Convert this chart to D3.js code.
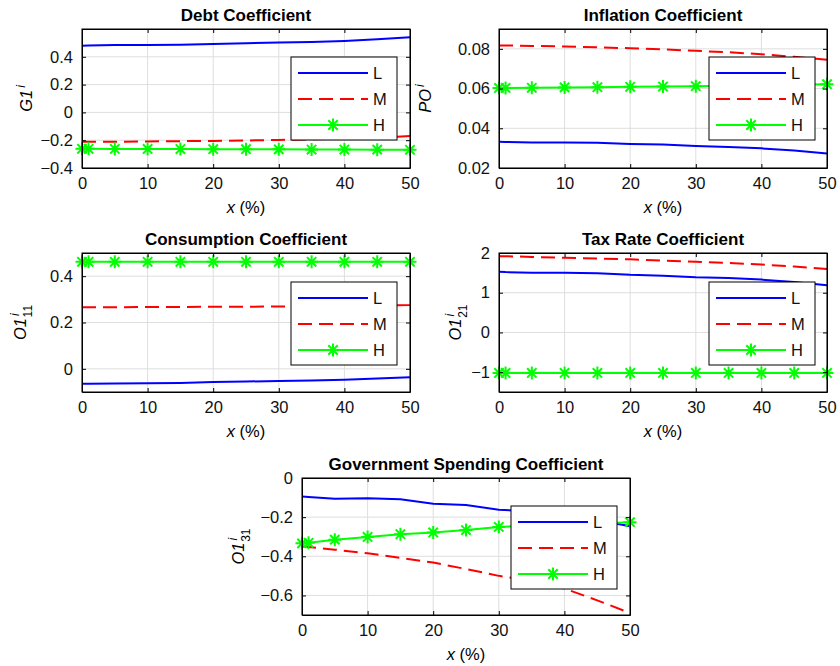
<html>
<head>
<meta charset="utf-8">
<script src="https://d3js.org/d3.v7.min.js"></script>
<style>
  body { margin: 0; padding: 0; background: #fff; }
  svg { font-family: "Liberation Sans", Arial, sans-serif; }
</style>
</head>
<body>
<div id="chart"></div>
<script>
// x positions (%) shared by all series
var xVals = [0, 1, 5, 10, 15, 20, 25, 30, 35, 40, 45, 50];
var seriesNames = ["L", "M", "H"];

// Debt coefficient
var debtL = [0.480, 0.482, 0.484, 0.485, 0.487, 0.492, 0.497, 0.503, 0.507, 0.514, 0.526, 0.540];
var debtM = [-0.212, -0.212, -0.211, -0.209, -0.207, -0.205, -0.202, -0.198, -0.194, -0.189, -0.181, -0.170];
var debtH = [-0.262, -0.262, -0.263, -0.263, -0.264, -0.265, -0.265, -0.266, -0.267, -0.267, -0.268, -0.269];

// Inflation coefficient
var inflL = [0.0332, 0.0331, 0.0329, 0.0329, 0.0327, 0.0321, 0.0318, 0.0311, 0.0306, 0.0299, 0.0288, 0.0273];
var inflM = [0.0817, 0.0817, 0.0815, 0.0812, 0.0808, 0.0803, 0.0797, 0.0790, 0.0783, 0.0773, 0.0760, 0.0745];
var inflH = [0.0603, 0.0603, 0.0604, 0.0606, 0.0607, 0.0609, 0.0610, 0.0612, 0.0614, 0.0616, 0.0619, 0.0622];

// Consumption coefficient
var consL = [-0.064, -0.064, -0.063, -0.062, -0.061, -0.057, -0.055, -0.052, -0.050, -0.047, -0.042, -0.036];
var consM = [0.266, 0.266, 0.266, 0.267, 0.267, 0.268, 0.268, 0.269, 0.270, 0.271, 0.273, 0.275];
var consH = [0.462, 0.462, 0.462, 0.462, 0.462, 0.462, 0.462, 0.462, 0.462, 0.462, 0.462, 0.462];

// Tax rate coefficient
var taxL = [1.53, 1.52, 1.50, 1.50, 1.49, 1.45, 1.43, 1.39, 1.37, 1.33, 1.27, 1.19];
var taxM = [1.92, 1.92, 1.90, 1.88, 1.86, 1.84, 1.81, 1.78, 1.75, 1.71, 1.66, 1.60];
var taxH = [-1.02, -1.02, -1.02, -1.02, -1.02, -1.02, -1.02, -1.02, -1.02, -1.02, -1.02, -1.02];

// Government spending coefficient
var govL = [-0.095, -0.097, -0.106, -0.104, -0.108, -0.132, -0.138, -0.162, -0.170, -0.190, -0.215, -0.247];
var govM = [-0.350, -0.352, -0.366, -0.385, -0.408, -0.432, -0.465, -0.500, -0.525, -0.565, -0.625, -0.690];
var govH = [-0.334, -0.331, -0.315, -0.301, -0.287, -0.278, -0.266, -0.250, -0.244, -0.238, -0.232, -0.226];

var xTicks = [0, 10, 20, 30, 40, 50];

var panels = [
  { title: "Debt Coefficient", data: [debtL, debtM, debtH], y: [-0.4, 0.6], ticks: [-0.4, -0.2, 0, 0.2, 0.4],
    lab: ["G1", "i", null], left: 82, top: 29, labOff: 50, leg: [291, 57] },
  { title: "Inflation Coefficient", data: [inflL, inflM, inflH], y: [0.02, 0.09], ticks: [0.02, 0.04, 0.06, 0.08],
    lab: ["PO", "i", null], left: 499, top: 29, labOff: 68, leg: [709, 57] },
  { title: "Consumption Coefficient", data: [consL, consM, consH], y: [-0.1, 0.5], ticks: [0, 0.2, 0.4],
    lab: ["O1", "i", "11"], left: 82, top: 253, labOff: 56, leg: [291, 282] },
  { title: "Tax Rate Coefficient", data: [taxL, taxM, taxH], y: [-1.5, 2], ticks: [-1, 0, 1, 2],
    lab: ["O1", "i", "21"], left: 499, top: 253, labOff: 38, leg: [709, 282] },
  { title: "Government Spending Coefficient", data: [govL, govM, govH], y: [-0.7, 0], ticks: [-0.6, -0.4, -0.2, 0],
    lab: ["O1", "i", "31"], left: 302, top: 478, labOff: 58, leg: [511, 506] }
];

var colors = ["#0000ff", "#ff0000", "#00ff00"];
var dashes = [null, "14,7", null];
var W = 328, H = 139;

var svg = d3.select("#chart").append("svg").attr("width", 840).attr("height", 666);

function asterisk(g, cx, cy, r) {
  var d = r * 0.72;
  var p = "M" + (cx - r) + "," + cy + "h" + (2 * r) +
          "M" + cx + "," + (cy - r) + "v" + (2 * r) +
          "M" + (cx - d) + "," + (cy - d) + "l" + (2 * d) + "," + (2 * d) +
          "M" + (cx - d) + "," + (cy + d) + "l" + (2 * d) + "," + (-2 * d);
  g.append("path").attr("d", p).attr("stroke", colors[2]).attr("stroke-width", 2).attr("fill", "none");
}

panels.forEach(function(p) {
  var h = p.title.indexOf("Government") === 0 ? 137 : H;
  var x = d3.scaleLinear().domain([0, 50]).range([0, W]);
  var y = d3.scaleLinear().domain(p.y).range([h, 0]);
  var g = svg.append("g").attr("transform", "translate(" + p.left + "," + p.top + ")");

  // grid
  g.append("g").selectAll("line").data(xTicks).enter().append("line")
    .attr("x1", d => x(d)).attr("x2", d => x(d)).attr("y1", 0).attr("y2", h)
    .attr("stroke", "#dedede").attr("stroke-width", 1);
  g.append("g").selectAll("line").data(p.ticks).enter().append("line")
    .attr("x1", 0).attr("x2", W).attr("y1", d => y(d)).attr("y2", d => y(d))
    .attr("stroke", "#dedede").attr("stroke-width", 1);

  // series
  var line = d3.line().x((d, i) => x(xVals[i])).y(d => y(d));
  p.data.forEach(function(s, k) {
    g.append("path").datum(s).attr("d", line).attr("fill", "none")
      .attr("stroke", colors[k]).attr("stroke-width", 2)
      .attr("stroke-dasharray", dashes[k]);
  });
  p.data[2].forEach(function(v, i) { asterisk(g, x(xVals[i]), y(v), 6.5); });

  // axes: box with inward ticks
  var fmt = d3.format("");
  var ax = g.append("g");
  ax.append("g").attr("transform", "translate(0," + h + ")")
    .call(d3.axisBottom(x).tickValues(xTicks).tickSizeInner(-4).tickSizeOuter(0).tickPadding(9));
  ax.append("g").call(d3.axisTop(x).tickValues(xTicks).tickSizeInner(-4).tickSizeOuter(0).tickFormat(""));
  ax.append("g").call(d3.axisLeft(y).tickValues(p.ticks).tickSizeInner(-4).tickSizeOuter(0).tickPadding(9).tickFormat(fmt));
  ax.append("g").attr("transform", "translate(" + W + ",0)")
    .call(d3.axisRight(y).tickValues(p.ticks).tickSizeInner(-4).tickSizeOuter(0).tickFormat(""));
  ax.selectAll(".domain").attr("stroke", "#000");
  ax.selectAll(".tick line").attr("stroke", "#000");
  ax.selectAll("text").attr("fill", "#111").attr("font-family", "Liberation Sans, Arial, sans-serif").attr("font-size", 16.5);
  g.append("rect").attr("width", W).attr("height", h).attr("fill", "none").attr("stroke", "#000").attr("stroke-width", 1);

  // title
  g.append("text").attr("x", W / 2).attr("y", -8).attr("text-anchor", "middle")
    .attr("font-size", 17).attr("font-weight", "bold").text(p.title);

  // x label
  var xl = g.append("text").attr("x", W / 2).attr("y", h + 45).attr("text-anchor", "middle").attr("font-size", 16.5);
  xl.append("tspan").attr("font-style", "italic").text("x");
  xl.append("tspan").text(" (%)");

  // y label
  var yl = g.append("text").attr("transform", "translate(" + (-p.labOff) + "," + (h / 2) + ") rotate(-90)")
    .attr("text-anchor", "middle").attr("font-size", 16.5);
  yl.append("tspan").attr("font-style", "italic").text(p.lab[0]);
  yl.append("tspan").attr("font-style", "italic").attr("font-size", 12).attr("dx", 2).attr("dy", -7).text(p.lab[1]);
  if (p.lab[2]) {
    yl.append("tspan").attr("font-size", 12).attr("dx", -4).attr("dy", 13).text(p.lab[2]);
  }

  // legend
  var lg = svg.append("g").attr("transform", "translate(" + p.leg[0] + "," + p.leg[1] + ")");
  lg.append("rect").attr("width", 106).attr("height", 83).attr("fill", "#fff").attr("stroke", "#000").attr("stroke-width", 1);
  seriesNames.forEach(function(n, k) {
    var yy = 16 + k * 26;
    lg.append("line").attr("x1", 7).attr("x2", 77).attr("y1", yy).attr("y2", yy)
      .attr("stroke", colors[k]).attr("stroke-width", 2).attr("stroke-dasharray", dashes[k]);
    if (k === 2) asterisk(lg, 42, yy, 6.5);
    lg.append("text").attr("x", 82).attr("y", yy + 6).attr("font-size", 16.5).attr("fill", "#111").text(n);
  });
});
</script>
</body>
</html>
